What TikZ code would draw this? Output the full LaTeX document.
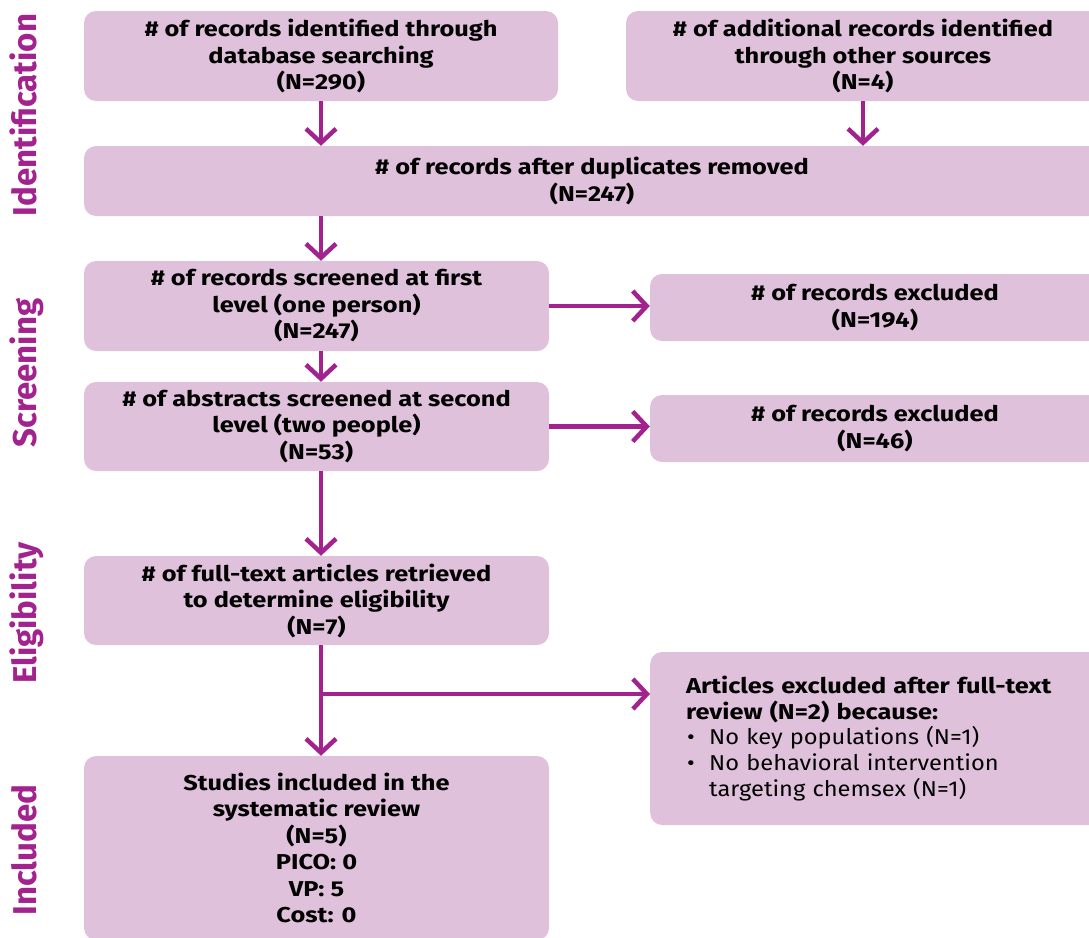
\documentclass[tikz,border=0pt]{standalone}
\usepackage{fontspec}
\setmainfont{Fira Sans}
\newfontfamily\boldwide{Fira Sans Bold}[FakeStretch=1.18]
\newfontfamily\plainwide{Fira Sans}[FakeStretch=1.10]
\usetikzlibrary{arrows.meta,positioning,calc}
\definecolor{boxpink}{RGB}{224,193,220}
\definecolor{prismapurple}{RGB}{163,35,142}
\newcommand{\boxfont}{\fontsize{21.5}{26.5}\selectfont\boldwide}
\newcommand{\phasefont}{\fontsize{33}{35}\selectfont\bfseries}
\newcommand{\bulletitem}{\makebox[23pt][l]{\hspace*{1pt}•}}

\begin{document}
\begin{tikzpicture}[x=1pt,y=-1pt,
    stage/.style={rectangle,rounded corners=12pt,fill=boxpink,align=center,inner sep=0pt,font=\boxfont},
    phase/.style={rotate=90,anchor=base,text=prismapurple,font=\phasefont},
    flow/.style={draw=prismapurple,line width=4.5pt,-{Straight Barb[length=14pt,width=30pt]}}]

    \useasboundingbox (0,0) rectangle (1089,937);
    \clip (0,0) rectangle (1089,937);

    % Identification
    \node[stage,minimum width=474pt,minimum height=90pt] (dbsearch) at (321,56) {\# of records identified through\\database searching\\(N=290)};
    \node[stage,minimum width=474pt,minimum height=90pt] (othersrc) at (863,56) {\# of additional records identified\\through other sources\\(N=4)};
    \node[stage,minimum width=1016pt,minimum height=70pt] (dedup) at (592,181) {\# of records after duplicates removed\\(N=247)};

    % Screening
    \node[stage,minimum width=465pt,minimum height=90pt] (firstlvl) at (316.5,306) {\# of records screened at first\\level (one person)\\(N=247)};
    \node[stage,minimum width=450pt,minimum height=67pt] (exclfirst) at (875,307.5) {\# of records excluded\\(N=194)};
    \node[stage,minimum width=465pt,minimum height=89pt] (secondlvl) at (316.5,426.5) {\# of abstracts screened at second\\level (two people)\\(N=53)};
    \node[stage,minimum width=450pt,minimum height=67pt] (exclsecond) at (875,428.5) {\# of records excluded\\(N=46)};

    % Eligibility
    \node[stage,minimum width=465pt,minimum height=89pt] (fulltext) at (316.5,600.5) {\# of full-text articles retrieved\\to determine eligibility\\(N=7)};
    \node[stage,anchor=west,align=left,font=\fontsize{21.5}{25.8}\selectfont\plainwide,text width=420pt,inner xsep=36pt,minimum height=173pt] (exclfull) at (650,738.5)
        {{\boldwide Articles excluded after full-text}\\{\boldwide review (N=2) because:}\\\bulletitem No key populations (N=1)\\\bulletitem No behavioral intervention\\\hspace*{23pt}targeting chemsex (N=1)};

    % Included
    \node[stage,minimum width=465pt,minimum height=184pt] (included) at (316.5,848) {Studies included in the\\systematic review\\(N=5)\\PICO: 0\\VP: 5\\Cost: 0};

    % Phase labels
    \node[phase] (lblident) at (36,115) {Identification};
    \node[phase] (lblscreen) at (36,373) {Screening};
    \node[phase] (lblelig) at (36,613) {Eligibility};
    \node[phase] (lblincl) at (36,850) {Included};

    % Connectors (main column runs at x of dbsearch)
    \draw[flow] (dbsearch.south) -- (dbsearch.south |- dedup.north);
    \draw[flow] (othersrc.south) -- (othersrc.south |- dedup.north);
    \draw[flow] (dbsearch.south |- dedup.south) -- (dbsearch.south |- firstlvl.north);
    \draw[flow] (firstlvl.east) -- (exclfirst.west |- firstlvl.east);
    \draw[flow] (dbsearch.south |- firstlvl.south) -- (dbsearch.south |- secondlvl.north);
    \draw[flow] (secondlvl.east) -- (exclsecond.west |- secondlvl.east);
    \draw[flow] (dbsearch.south |- secondlvl.south) -- (dbsearch.south |- fulltext.north);
    \draw[flow] (dbsearch.south |- fulltext.south) -- (dbsearch.south |- included.north);
    \coordinate (fork) at (321,694);
    \draw[flow] (fork) -- (fork -| exclfull.west);
\end{tikzpicture}
\end{document}
